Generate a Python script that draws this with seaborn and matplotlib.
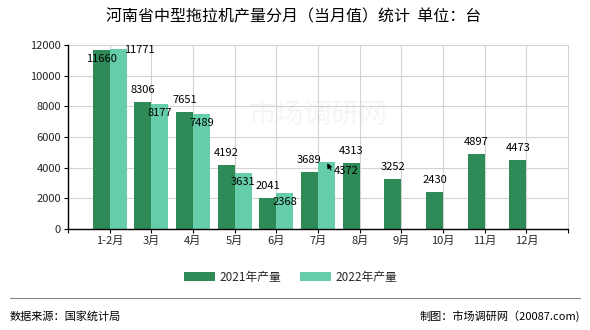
import matplotlib
matplotlib.use("Agg")
import matplotlib.pyplot as plt
import seaborn as sns
import pandas as pd
import numpy as np
from matplotlib.patches import Patch

months = ["1-2月", "3月", "4月", "5月", "6月", "7月", "8月", "9月", "10月", "11月", "12月"]
vals_2021 = [11660, 8306, 7651, 4192, 2041, 3689, 4313, 3252, 2430, 4897, 4473]
vals_2022 = [11771, 8177, 7489, 3631, 2368, 4372, None, None, None, None, None]
series = ["2021年产量", "2022年产量"]
colors = ["#2E8B57", "#66CDAA"]

sns.set_theme(style="white")
plt.rcParams['font.family'] = ['Noto Sans CJK SC', 'DejaVu Sans']

rows = []
for m, a, b in zip(months, vals_2021, vals_2022):
    rows.append({"month": m, "series": series[0], "value": a})
    rows.append({"month": m, "series": series[1], "value": np.nan if b is None else b})
df = pd.DataFrame(rows)

fig = plt.figure(figsize=(5.9, 3.3), dpi=100)
ax = fig.add_axes([68/590, 1-229/330, 500/590, 184/330])

sns.barplot(data=df, x="month", y="value", hue="series", order=months,
            hue_order=series, palette=colors, width=0.82, saturation=1,
            errorbar=None, ax=ax, legend=False, edgecolor="none")

ax.set_xlim(-1, 11)
ax.set_ylim(0, 12000)
ax.set_yticks(range(0, 12001, 2000))
ax.set_xticks(range(-1, 12))
ax.set_xticklabels([""] + months + [""])
ax.set_xlabel("")
ax.set_ylabel("")
ax.xaxis.grid(True, color="#d3d3d3", linewidth=0.8)
ax.yaxis.grid(True, color="#d3d3d3", linewidth=0.8)
ax.set_axisbelow(True)
for s in ["top", "right"]:
    ax.spines[s].set_visible(False)
for s in ["left", "bottom"]:
    ax.spines[s].set_color("black")
    ax.spines[s].set_linewidth(1.0)
ax.tick_params(axis="both", which="both", length=3, width=0.8, color="black",
               labelsize=8, pad=2, direction="out", bottom=True, left=True)
for gl in ax.get_xgridlines() + ax.get_ygridlines():
    gl.set_clip_on(False)

# value labels
px = 0.72
for ci, cont in enumerate(ax.containers):
    for i, bar in enumerate(cont):
        h = bar.get_height()
        if h is None or np.isnan(h) or h == 0:
            continue
        xc = bar.get_x() + bar.get_width()/2
        txt = f"{int(round(h))}"
        arrow = None
        if ci == 0:
            dx, dy = 0, 12*px
            if i == 0:
                dy = -9*px
        else:
            dx, dy = 0, -9*px
            if i == 0:
                dx, dy = 21*px, -1*px
            elif i == 5:
                dx, dy = 20*px, -9*px
                arrow = dict(arrowstyle="-|>", color="black", lw=0.8,
                             shrinkA=0, shrinkB=1, mutation_scale=7,
                             relpos=(0.0, 0.0))
        ax.annotate(txt, xy=(xc, h), xytext=(dx, dy), textcoords="offset points",
                    ha="center", va="center", fontsize=8, color="black",
                    arrowprops=arrow, annotation_clip=False)

# faint watermark
ax.text(0.5, 0.62, "市场调研网", transform=ax.transAxes, ha="center", va="center",
        fontsize=20, color="#000000", alpha=0.04)

# title
fig.text(294/590, 1-17/330, "河南省中型拖拉机产量分月（当月值）统计  单位：台",
         ha="center", va="center", fontsize=11.5, color="black")

# legend
handles = [Patch(facecolor=c, edgecolor="none") for c in colors]
fig.legend(handles, series, loc="center", bbox_to_anchor=(291/590, 1-277/330),
           ncol=2, frameon=False, fontsize=8.5, handlelength=2.6, handleheight=0.9,
           handletextpad=0.4, columnspacing=1.6)

# footer
fig.add_artist(plt.Line2D([10/590, 580/590], [1-298/330, 1-298/330],
                          transform=fig.transFigure, color="#888888", lw=0.8))
fig.text(10/590, 1-316/330, "数据来源：国家统计局", ha="left", va="center",
         fontsize=8, color="black")
fig.text(580/590, 1-316/330, "制图：市场调研网（20087.com)", ha="right", va="center",
         fontsize=8, color="black")

fig.savefig("out.png", dpi=100)
